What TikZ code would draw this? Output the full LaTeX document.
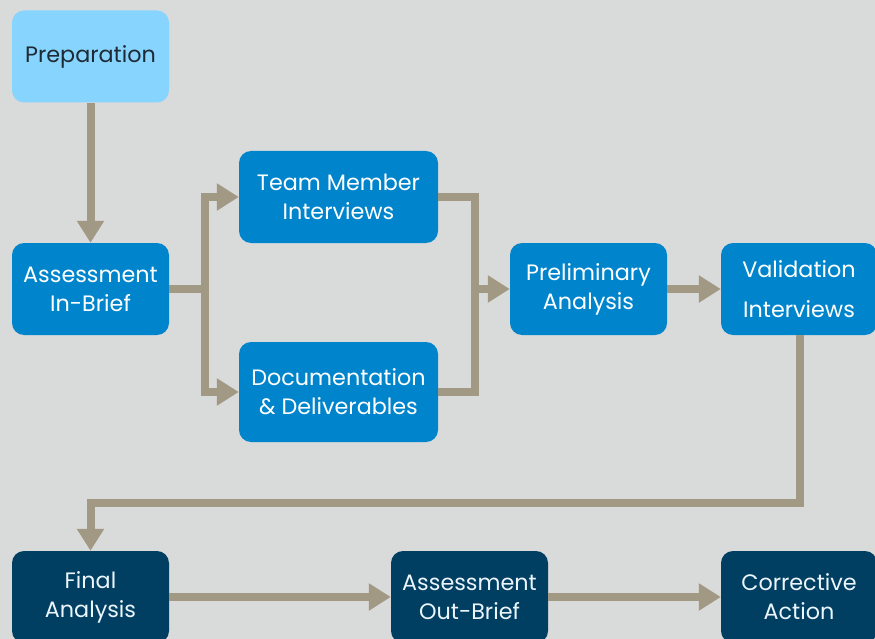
\documentclass[tikz,border=0pt]{standalone}
\usepackage{fontspec}
\setmainfont{Poppins}
\usetikzlibrary{arrows.meta}
\definecolor{bggray}{HTML}{D9DADA}
\definecolor{lightblue}{HTML}{87D4FF}
\definecolor{midblue}{HTML}{0085CC}
\definecolor{navy}{HTML}{003F62}
\definecolor{flowgray}{HTML}{A29985}
\definecolor{darktext}{HTML}{1E2A35}

\begin{document}
\begin{tikzpicture}[x=1pt,y=-1pt,
	box/.style={rounded corners=12pt, minimum width=157pt, minimum height=92pt, align=center, inner sep=0pt, font=\fontsize{22.3}{29}\selectfont},
	startbox/.style={box, fill=lightblue, text=darktext},
	midbox/.style={box, fill=midblue, text=white},
	endbox/.style={box, fill=navy, text=white!92!midblue},
	flow/.style={draw=flowgray, line width=8pt, line join=miter},
	flowarrow/.style={flow, -{Triangle[width=26pt,length=22pt]}}]
		\clip (0,0) rectangle (875,639);
		\fill[bggray] (0,0) rectangle (875,639);
		
		\node[startbox] at (90.5,56.5) (prep) {Preparation};
		\node[midbox] at (90.5,289) (inbrief) {Assessment\\In-Brief};
		\node[midbox, minimum width=199pt] at (338.5,197) (team) {Team Member\\Interviews};
		\node[midbox, minimum width=199pt, minimum height=100pt] at (338.5,392) (docs) {Documentation\\\& Deliverables};
		\node[midbox] at (588.5,289) (prelim) {Preliminary\\Analysis};
		\node[midbox, minimum width=156pt, font=\fontsize{22.3}{40}\selectfont] at (799,289) (valid) {Validation\\Interviews};
		\node[endbox] at (90.5,597) (final) {Final\\Analysis};
		\node[endbox] at (469.5,597) (outbrief) {Assessment\\Out-Brief};
		\node[endbox, minimum width=156pt] at (799,597) (corrective) {Corrective\\Action};
		
		\coordinate (split) at (205,289);
		\coordinate (merge) at (475,289);
		\coordinate (turn) at (800,503);
		
		\draw[flowarrow] (prep.south) -- (inbrief.north);
		
		\draw[flow] (inbrief.east) -- (split);
		\draw[flowarrow] (split) |- (team.west);
		\draw[flowarrow] (split) |- (docs.west);
		
		\draw[flow] (team.east) -| (merge);
		\draw[flow] (docs.east) -| (merge);
		\draw[flowarrow] (merge) -- (prelim.west);
		
		\draw[flowarrow] (prelim.east) -- (valid.west);
		\draw[flowarrow] (valid.south -| turn) -- (turn) -| (final.north);
		
		\draw[flowarrow] (final.east) -- (outbrief.west);
		\draw[flowarrow] (outbrief.east) -- (corrective.west);
	\end{tikzpicture}
\end{document}
